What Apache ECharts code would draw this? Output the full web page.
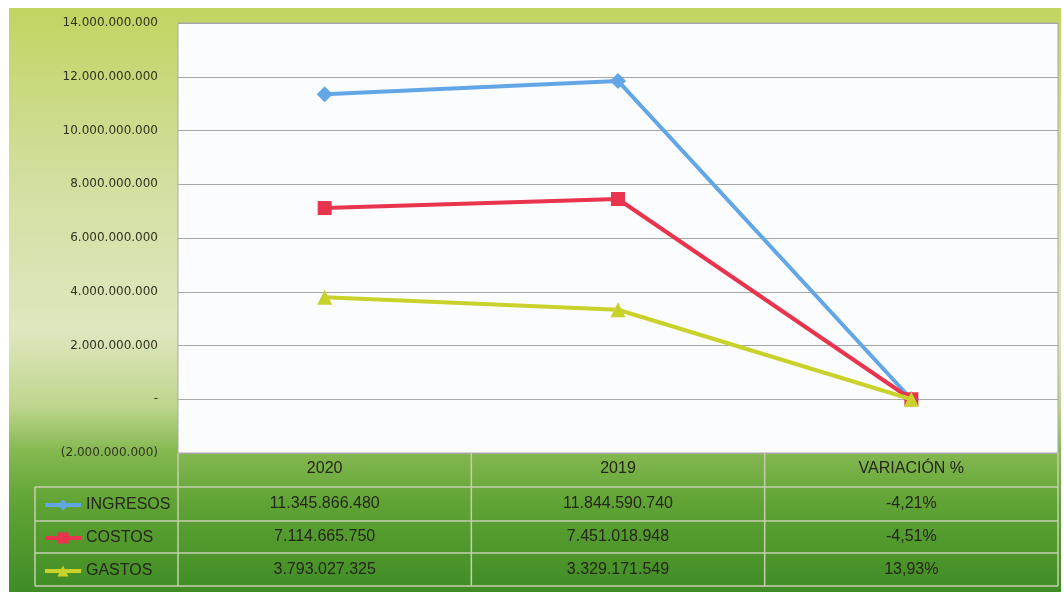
<!DOCTYPE html>
<html>
<head>
<meta charset="utf-8">
<script src="https://cdn.jsdelivr.net/npm/echarts@6/dist/echarts.min.js"></script>
<style>
  html, body { margin: 0; padding: 0; background: #fff; }
  #chart { width: 1064px; height: 592px; }
</style>
</head>
<body>
<div id="chart"></div>
<script>
var categories = ['2020', '2019', 'VARIACIÓN %'];
var seriesNames = ['INGRESOS', 'COSTOS', 'GASTOS'];
var ingresos = [11345866480, 11844590740, -0.0421];
var costos = [7114665750, 7451018948, -0.0451];
var gastos = [3793027325, 3329171549, 0.1393];
var yMin = -2000000000, yMax = 14000000000, yStep = 2000000000;

var colors = ['#62a6e6', '#e8344c', '#c8d22a'];
var symbols = ['diamond', 'rect', 'triangle'];
var tableFont = 'Liberation Sans';

function miles(n) {
  return Math.round(n).toString().replace(/\B(?=(\d{3})+(?!\d))/g, '.');
}
function pct(v) {
  return (v * 100).toFixed(2).replace('.', ',') + '%';
}
function yLabel(v) {
  if (v === 0) return '-';
  if (v < 0) return '(' + miles(-v) + ')';
  return miles(v);
}

var allData = [ingresos, costos, gastos];
var gridL = 178, gridT = 23, gridR = 6, gridB = 139;
var W = 1064, H = 592;
var rowTop = [487, 521, 553], rowBot = 586;

var chart = echarts.init(document.getElementById('chart'));

var option = {
  animation: false,
  grid: {
    left: gridL, right: gridR, top: gridT, bottom: gridB,
    show: true, backgroundColor: '#fbfcfe', borderColor: '#a9a9a9', borderWidth: 1
  },
  legend: {
    orient: 'vertical',
    left: 38, top: 492,
    itemWidth: 36, itemHeight: 14, itemGap: 17,
    lineStyle: { width: 4 },
    textStyle: { fontSize: 16, color: '#26261a', fontFamily: tableFont },
    data: seriesNames
  },
  xAxis: {
    type: 'category',
    data: categories,
    axisLine: { lineStyle: { color: '#a9a9a9' } },
    axisTick: { show: false },
    axisLabel: { fontSize: 16, color: '#26261a', fontFamily: tableFont, margin: 8 }
  },
  yAxis: {
    type: 'value',
    min: yMin, max: yMax, interval: yStep,
    axisLine: { show: false },
    axisTick: { show: false },
    axisLabel: { formatter: yLabel, fontSize: 12, color: '#33331f', fontFamily: 'DejaVu Sans', margin: 20 },
    splitLine: { lineStyle: { color: '#a6a6a6' } }
  },
  series: seriesNames.map(function (name, i) {
    return {
      name: name,
      type: 'line',
      data: allData[i],
      symbol: symbols[i],
      symbolSize: [16, 14, 15][i],
      color: colors[i],
      lineStyle: { width: 4, color: colors[i] },
      itemStyle: { color: colors[i] },
      z: 2 + i
    };
  })
};
chart.setOption(option);

// background, table grid lines and table values
var gfx = [{
  type: 'rect', z: -10, silent: true,
  shape: { x: 9, y: 8, width: W - 9 - 3, height: H - 8 },
  style: {
    fill: new echarts.graphic.LinearGradient(0, 0, 0, 1, [
      { offset: 0, color: '#c2d462' },
      { offset: 0.3, color: '#d2dfa0' },
      { offset: 0.55, color: '#dfe7c0' },
      { offset: 0.68, color: '#bfd68e' },
      { offset: 0.76, color: '#84b850' },
      { offset: 0.85, color: '#5fa334' },
      { offset: 1, color: '#3f8c25' }
    ])
  }
}];

var lineStyle = { stroke: '#c9cdb0', lineWidth: 1.5 };
var edges = [0, 1, 2].map(function (i) {
  return chart.convertToPixel({ xAxisIndex: 0 }, i);
});
var band = edges[1] - edges[0];
var colX = [gridL, edges[0] + band / 2, edges[1] + band / 2, W - gridR];
// vertical lines
colX.forEach(function (x) {
  gfx.push({ type: 'line', z: 5, silent: true, shape: { x1: x, y1: H - gridB, x2: x, y2: rowBot }, style: lineStyle });
});
gfx.push({ type: 'line', z: 5, silent: true, shape: { x1: 35, y1: rowTop[0], x2: 35, y2: rowBot }, style: lineStyle });
// horizontal lines
rowTop.concat([rowBot]).forEach(function (y) {
  gfx.push({ type: 'line', z: 5, silent: true, shape: { x1: 35, y1: y, x2: W - gridR, y2: y }, style: lineStyle });
});
// cell texts
allData.forEach(function (arr, r) {
  var yc = (rowTop[r] + (r < 2 ? rowTop[r + 1] : rowBot)) / 2;
  arr.forEach(function (v, c) {
    gfx.push({
      type: 'text', z: 6, silent: true,
      x: edges[c], y: yc,
      style: {
        text: c === 2 ? pct(v) : miles(v),
        fill: '#26261a', font: '16px "' + tableFont + '"',
        align: 'center', verticalAlign: 'middle'
      }
    });
  });
});
chart.setOption({ graphic: gfx });
</script>
</body>
</html>
